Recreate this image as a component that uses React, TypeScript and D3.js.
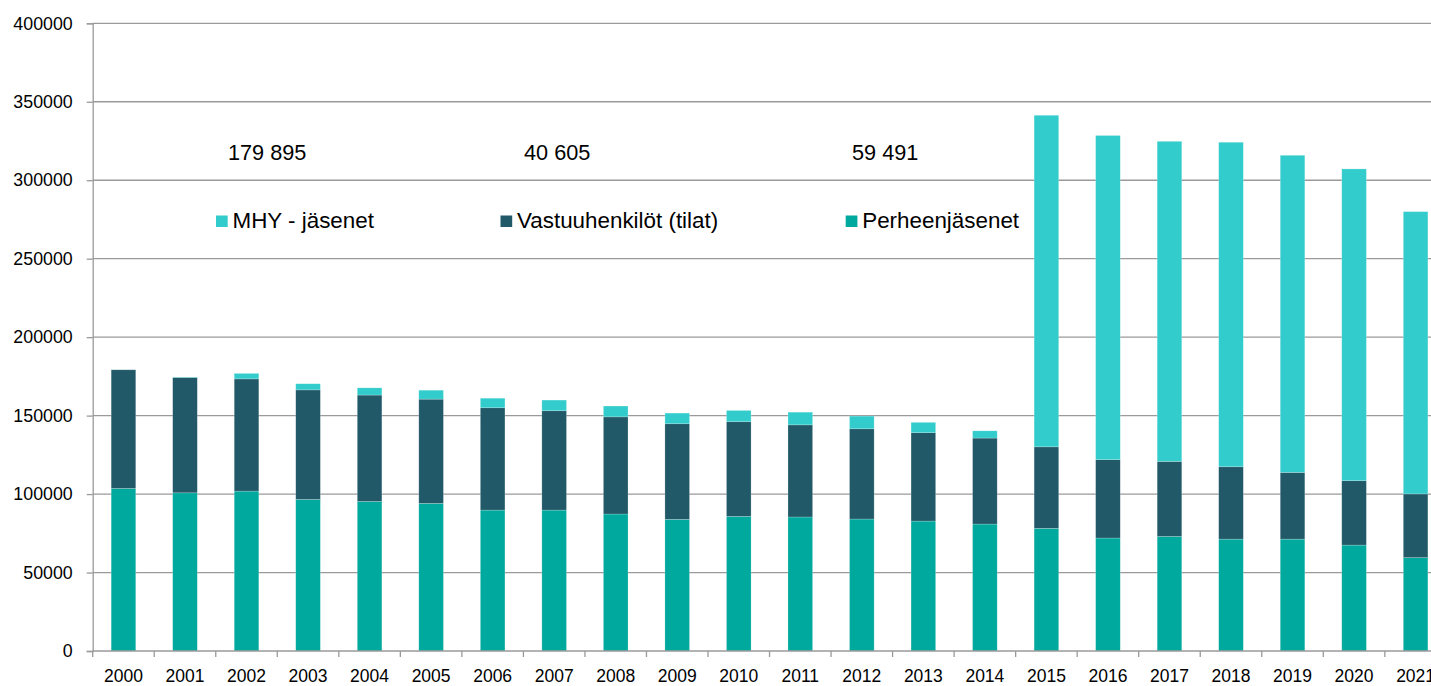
import React, { useEffect, useRef } from "react";
import * as d3 from "d3";

const years = ["2000","2001","2002","2003","2004","2005","2006","2007","2008","2009","2010","2011","2012","2013","2014","2015","2016","2017","2018","2019","2020","2021"];
// Perheenjäsenet
const perhe = [103600,100800,101900,96600,95300,94100,89800,89800,87300,83900,85800,85400,84100,82800,80900,78200,72000,73000,71300,71300,67500,59491];
// Vastuuhenkilöt (tilat)
const vastuu = [75600,73500,71500,69800,67800,66400,65200,63300,61900,60900,60300,58700,57500,56300,54800,51900,49900,47800,46100,42500,41000,40605];
// MHY - jäsenet
const mhy = [0,300,3500,3900,4600,5700,6100,6800,6900,6800,7200,8100,8100,6600,4600,211300,206600,204000,206800,202100,198700,179895];
const yTicks = [0,50000,100000,150000,200000,250000,300000,350000,400000];

const seriesKeys = ["perhe","vastuu","mhy"];
const seriesNames = { perhe: "Perheenjäsenet", vastuu: "Vastuuhenkilöt (tilat)", mhy: "MHY - jäsenet" };
const colors = { perhe: "#00A99D", vastuu: "#215968", mhy: "#33CCCC" };

const W = 1431;
const H = 686;
const font = "'Liberation Sans', Arial, sans-serif";

export default function App() {
  const ref = useRef<SVGSVGElement>(null);

  useEffect(() => {
    const svg = d3.select(ref.current);
    svg.selectAll("*").remove();

    const table = years.map((y, i) => ({ year: y, perhe: perhe[i], vastuu: vastuu[i], mhy: mhy[i] }));

    const x0 = 92.7;
    const step = 61.53;
    const x = d3.scaleBand().domain(years).range([x0, x0 + step * years.length]).paddingInner(0.6).paddingOuter(0.3);
    const y = d3.scaleLinear().domain([0, 400000]).range([651, 23.3]);

    // grid
    svg.append("g")
      .selectAll("line")
      .data(yTicks.slice(1))
      .join("line")
      .attr("x1", x0)
      .attr("x2", W)
      .attr("y1", d => y(d))
      .attr("y2", d => y(d))
      .attr("stroke", "#9a9a9a")
      .attr("stroke-width", 1.3);

    const stack = d3.stack().keys(seriesKeys)(table as any);

    svg.append("g")
      .selectAll("g")
      .data(stack)
      .join("g")
      .attr("fill", (d: any) => colors[d.key])
      .selectAll("rect")
      .data((d: any) => d)
      .join("rect")
      .attr("x", (d: any) => x(d.data.year))
      .attr("width", x.bandwidth())
      .attr("y", (d: any) => y(d[1]))
      .attr("height", (d: any) => Math.max(0, y(d[0]) - y(d[1])))
      .attr("stroke", "#ffffff")
      .attr("stroke-opacity", 0.35)
      .attr("stroke-width", 0.6);

    // y axis
    const yAxis = svg.append("g")
      .attr("transform", `translate(${x0},0)`)
      .call(d3.axisLeft(y).tickValues(yTicks).tickSize(6).tickPadding(14).tickFormat(d3.format("d")));
    yAxis.select(".domain").attr("stroke", "#9a9a9a").attr("stroke-width", 1.3);
    yAxis.selectAll(".tick line").attr("stroke", "#9a9a9a").attr("stroke-width", 1.3);
    yAxis.selectAll("text").attr("font-family", font).attr("font-size", 17.8).attr("fill", "#000");

    // x axis
    const xg = svg.append("g").attr("transform", `translate(0,${y(0)})`);
    xg.append("line")
      .attr("x1", x0).attr("x2", W)
      .attr("y1", 0).attr("y2", 0)
      .attr("stroke", "#9a9a9a").attr("stroke-width", 1.3);
    xg.selectAll("line.sep")
      .data(d3.range(years.length + 1))
      .join("line")
      .attr("class", "sep")
      .attr("x1", i => x0 + i * step)
      .attr("x2", i => x0 + i * step)
      .attr("y1", 0).attr("y2", 6)
      .attr("stroke", "#9a9a9a").attr("stroke-width", 1.3);
    xg.selectAll("text")
      .data(years)
      .join("text")
      .attr("x", d => (x(d) as number) + x.bandwidth() / 2)
      .attr("y", 30.5)
      .attr("text-anchor", "middle")
      .attr("font-family", font)
      .attr("font-size", 17.5)
      .attr("fill", "#000")
      .text(d => d);

    // data labels for 2021 (shown detached, like the original)
    const last = years.length - 1;
    const labels = [
      { v: mhy[last], left: 228 },
      { v: vastuu[last], left: 524 },
      { v: perhe[last], left: 852 },
    ];
    const fmt = (v: number) => d3.format(",")(v).replace(/,/g, " ");
    svg.append("g")
      .selectAll("text")
      .data(labels)
      .join("text")
      .attr("x", d => d.left)
      .attr("y", 159.5)
      .attr("font-family", font)
      .attr("font-size", 21.7)
      .attr("fill", "#000")
      .text(d => fmt(d.v));

    // legend
    const legendItems = [
      { key: "mhy", left: 216 },
      { key: "vastuu", left: 500.5 },
      { key: "perhe", left: 845.7 },
    ];
    const lg = svg.append("g")
      .selectAll("g")
      .data(legendItems)
      .join("g")
      .attr("transform", d => `translate(${d.left},0)`);
    lg.append("rect")
      .attr("x", 0).attr("y", 215.5)
      .attr("width", 11.7).attr("height", 11.5)
      .attr("fill", d => colors[d.key]);
    lg.append("text")
      .attr("x", 16.5)
      .attr("y", 227.8)
      .attr("font-family", font)
      .attr("font-size", 22.4)
      .attr("fill", "#000")
      .text(d => seriesNames[d.key]);
  }, []);

  return (
    <svg
      ref={ref}
      width={W}
      height={H}
      style={{ position: "absolute", left: 0, top: 0, background: "#fff" }}
    />
  );
}
